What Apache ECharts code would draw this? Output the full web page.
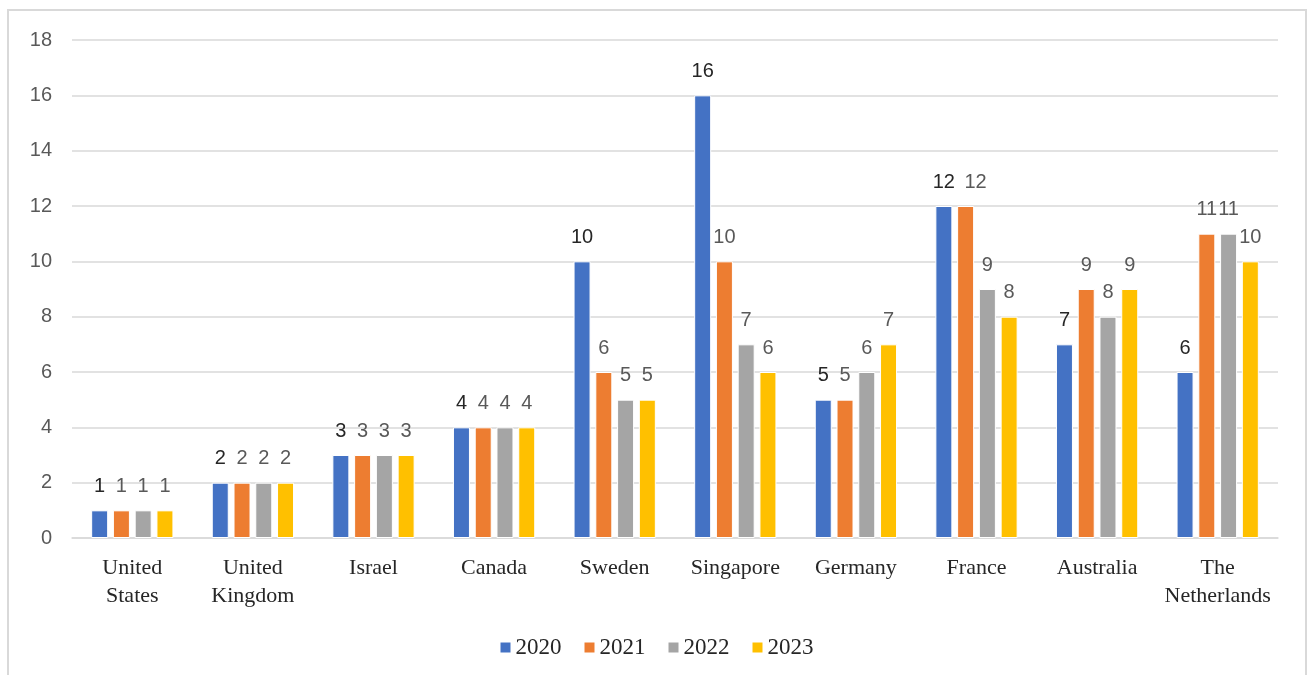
<!DOCTYPE html>
<html>
<head>
<meta charset="utf-8">
<script src="https://cdn.jsdelivr.net/npm/echarts@6/dist/echarts.min.js"></script>
<style>html,body{margin:0;padding:0;background:#fff}#c{width:1312px;height:675px}</style>
</head>
<body>
<div id="c"></div>
<script>
const categories = ['United\nStates','United\nKingdom','Israel','Canada','Sweden','Singapore','Germany','France','Australia','The\nNetherlands'];
const years = ['2020','2021','2022','2023'];
const v2020 = [1,2,3,4,10,16,5,12,7,6];
const v2021 = [1,2,3,4,6,10,5,12,9,11];
const v2022 = [1,2,3,4,5,7,6,9,8,11];
const v2023 = [1,2,3,4,5,6,7,8,9,10];
const yTicks = {min:0, max:18, interval:2};

const colors = ['#4472C4','#ED7D31','#A5A5A5','#FFC000'];
const labelColors = ['#262626','#595959','#595959','#595959'];
const seriesData = [v2020, v2021, v2022, v2023];

function buildData(arr, si){
  return arr.map((v, ci) => {
    // France 2021 label nudged right to avoid overlap, as in the reference
    if (si === 1 && ci === 7) return {value:v, label:{offset:[10,0]}};
    return v;
  });
}

const chart = echarts.init(document.getElementById('c'), null, {renderer:'canvas'});
chart.setOption({
  animation:false,
  backgroundColor:'#fff',
  color: colors,
  graphic:[{type:'rect', shape:{x:8,y:10,width:1298,height:700}, style:{fill:'none', stroke:'#d9d9d9', lineWidth:2}, silent:true}],
  grid:{left:72, right:34, top:40, bottom:137},
  legend:{
    data: years, top:631, left:'center', icon:'rect', itemWidth:12, itemHeight:12, itemGap:21,
    textStyle:{fontFamily:'Liberation Serif', fontSize:23, color:'#262626', padding:[2,0,0,-1]}
  },
  xAxis:{
    type:'category', data:categories,
    axisLine:{lineStyle:{color:'#d9d9d9', width:1.5}},
    axisTick:{show:false},
    axisLabel:{fontFamily:'Liberation Serif', fontSize:22, lineHeight:28, color:'#262626', margin:16, interval:0}
  },
  yAxis:{
    type:'value', min:yTicks.min, max:yTicks.max, interval:yTicks.interval,
    axisLine:{show:false}, axisTick:{show:false},
    splitLine:{lineStyle:{color:'#d9d9d9', width:1.5}},
    axisLabel:{fontFamily:'Liberation Sans', fontSize:20, color:'#595959', margin:20}
  },
  series: years.map((y,i)=>({
    name:y, type:'bar', data:buildData(seriesData[i], i), barWidth:17, barGap:'28%',
    itemStyle:{color:colors[i], borderColor:'#fff', borderWidth:1},
    label:{show:true, position:'top', distance:14, fontFamily:'Liberation Sans', fontSize:20, color:labelColors[i]}
  }))
});
</script>
</body>
</html>
